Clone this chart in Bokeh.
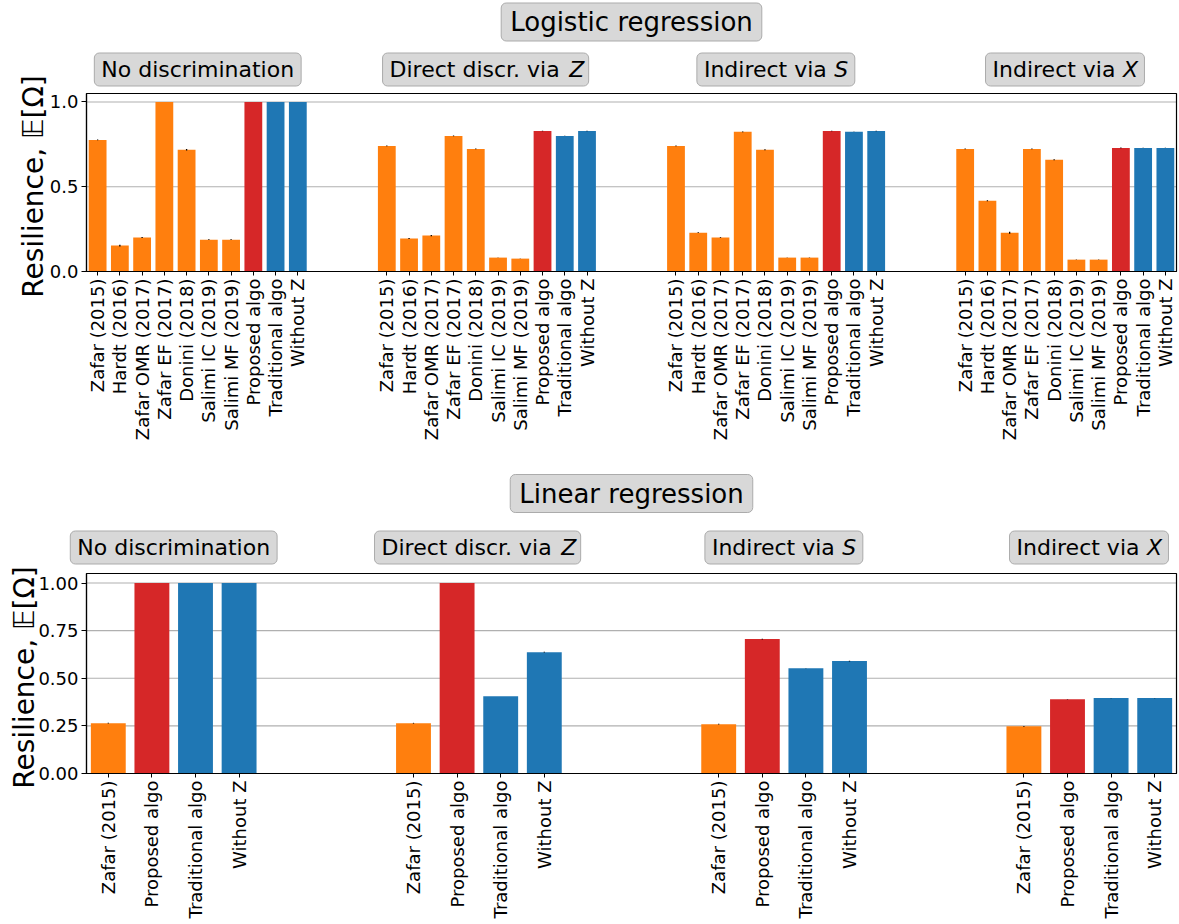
import math
from bokeh.plotting import figure
from bokeh.layouts import column
from bokeh.models import ColumnDataSource, Range1d, FixedTicker, PrintfTickFormatter, Label
from bokeh.embed import file_html
from bokeh.resources import INLINE

FONT = "DejaVu Sans"

# ---------------- data ----------------
log_methods = ["Zafar (2015)", "Hardt (2016)", "Zafar OMR (2017)", "Zafar EF (2017)",
               "Donini (2018)", "Salimi IC (2019)", "Salimi MF (2019)",
               "Proposed algo", "Traditional algo", "Without Z"]
log_kinds = ["baseline"] * 7 + ["proposed", "traditional", "traditional"]

lin_methods = ["Zafar (2015)", "Proposed algo", "Traditional algo", "Without Z"]
lin_kinds = ["baseline", "proposed", "traditional", "traditional"]

scenario_names = ["No discrimination", "Direct discr. via", "Indirect via", "Indirect via"]
scenario_vars = ["", "Z", "S", "X"]

log_no_disc = [0.776, 0.153, 0.200, 1.000, 0.718, 0.188, 0.188, 1.000, 1.000, 1.000]
log_direct_z = [0.741, 0.194, 0.212, 0.800, 0.723, 0.082, 0.076, 0.829, 0.800, 0.829]
log_indirect_s = [0.741, 0.229, 0.200, 0.824, 0.718, 0.082, 0.082, 0.829, 0.824, 0.829]
log_indirect_x = [0.723, 0.418, 0.229, 0.723, 0.659, 0.070, 0.070, 0.729, 0.729, 0.729]

log_err_no_disc = [0.002, 0.005, 0.003, 0.000, 0.004, 0.002, 0.002, 0.000, 0.000, 0.000]
log_err_direct_z = [0.002, 0.003, 0.004, 0.002, 0.002, 0.001, 0.001, 0.002, 0.001, 0.001]
log_err_indirect_s = [0.002, 0.002, 0.002, 0.002, 0.003, 0.001, 0.001, 0.002, 0.001, 0.001]
log_err_indirect_x = [0.002, 0.003, 0.006, 0.002, 0.003, 0.001, 0.001, 0.002, 0.001, 0.001]

lin_no_disc = [0.264, 1.000, 1.000, 1.000]
lin_direct_z = [0.264, 1.000, 0.406, 0.637]
lin_indirect_s = [0.259, 0.706, 0.553, 0.590]
lin_indirect_x = [0.248, 0.390, 0.396, 0.396]

lin_err_no_disc = [0.002, 0.000, 0.000, 0.000]
lin_err_direct_z = [0.002, 0.000, 0.000, 0.002]
lin_err_indirect_s = [0.002, 0.002, 0.001, 0.002]
lin_err_indirect_x = [0.002, 0.001, 0.001, 0.001]

log_yticks = [0.0, 0.5, 1.0]
lin_yticks = [0.0, 0.25, 0.5, 0.75, 1.0]
Y_TOP = 1.05

kind_colors = {"baseline": "#ff7f0e", "proposed": "#d62728", "traditional": "#1f77b4"}

# ---------------- layout constants (pixels) ----------------
W = 1179
AX_LEFT = 86      # left edge of the axes box
AX_RIGHT = 1176   # right edge of the axes box
AX_W = AX_RIGHT - AX_LEFT

# DejaVu Sans advance widths (em) for label layout
CHAR_W = {' ': 0.318, 'D': 0.770, 'i': 0.278, 'r': 0.411, 'e': 0.615, 'c': 0.550,
          't': 0.392, 'd': 0.635, 's': 0.521, '.': 0.318, 'v': 0.592, 'a': 0.613,
          'I': 0.295, 'n': 0.634, 'Z': 0.685, 'S': 0.635, 'X': 0.685}


def text_w(s, fs):
    return sum(CHAR_W.get(ch, 0.6) for ch in s) * fs


BOX_FILL = "#d8d8d8"
BOX_LINE = "#ababab"


def box_label(p, x, yoff, main, var, fs, pad_x, pad_y):
    common = dict(x=x, y=Y_TOP, y_offset=yoff, text_baseline="middle", text_font=FONT,
                  text_font_size=f"{fs}px", text_color="black")
    box = dict(background_fill_color=BOX_FILL, background_fill_alpha=1.0,
               border_line_color=BOX_LINE, border_line_width=1, border_radius=5)
    if not var:
        p.add_layout(Label(text=main, text_align="center",
                           padding=dict(left=pad_x, right=pad_x, top=pad_y, bottom=pad_y),
                           **box, **common))
    else:
        w_main_sp = text_w(main + " ", fs)
        w_main = text_w(main, fs)
        total = w_main_sp + text_w(var, fs)
        p.add_layout(Label(x_offset=-total / 2 - pad_x, text=main, text_align="left",
                           padding=dict(left=pad_x, right=int(round(pad_x + total - w_main)),
                                        top=pad_y, bottom=pad_y),
                           **box, **common))
        p.add_layout(Label(x_offset=-total / 2 + w_main_sp, text=var, text_align="left",
                           text_font_style="italic", **common))


def make_panel(methods, kinds, series, errors, title, yticks, yfmt,
               H, frame_top, frame_bottom, title_off, group_off, ylab_off):
    n = len(methods)
    step = n + 3
    xs, tops, cols, y0s, y1s = [], [], [], [], []
    ticks, overrides = [], {}
    for g, (vals, errs) in enumerate(zip(series, errors)):
        for i in range(n):
            x = g * step + i
            xs.append(x)
            tops.append(vals[i])
            cols.append(kind_colors[kinds[i]])
            y0s.append(vals[i] - errs[i])
            y1s.append(vals[i] + errs[i])
            ticks.append(x)
            overrides[x] = methods[i]
    xmin = -0.5
    xmax = (len(series) - 1) * step + n - 1 + 0.5

    xunit = AX_W / (xmax - xmin)
    yunit = (frame_bottom - frame_top) / Y_TOP
    x_range = Range1d(xmin - AX_LEFT / xunit, xmax + (W - AX_RIGHT) / xunit)
    y_range = Range1d(-(H - frame_bottom) / yunit, Y_TOP + frame_top / yunit)

    p = figure(width=W, height=H, output_backend="svg", toolbar_location=None,
               x_range=x_range, y_range=y_range, min_border=0)
    p.background_fill_color = "white"
    p.border_fill_color = "white"
    p.outline_line_color = None
    p.grid.visible = False

    # horizontal grid lines
    p.segment(x0=[xmin] * len(yticks), y0=yticks, x1=[xmax] * len(yticks), y1=yticks,
              line_color="#b0b0b0", line_width=1.1)

    src = ColumnDataSource(dict(x=xs, top=tops, color=cols, y0=y0s, y1=y1s))
    p.vbar(x="x", top="top", width=0.8, bottom=0, fill_color="color", line_color=None, source=src)
    p.segment(x0="x", y0="y0", x1="x", y1="y1", line_color="black", line_width=1.3, source=src)

    # axes box
    p.quad(left=[xmin], right=[xmax], bottom=[0], top=[Y_TOP], fill_color=None,
           line_color="black", line_width=1.2)

    xa = p.xaxis[0]
    xa.fixed_location = 0
    xa.bounds = (xmin, xmax)
    xa.ticker = FixedTicker(ticks=ticks)
    xa.major_label_overrides = overrides
    xa.major_label_orientation = math.pi / 2
    xa.major_label_text_font = FONT
    xa.major_label_text_font_size = "18px"
    xa.major_label_text_color = "black"
    xa.major_tick_out = 4
    xa.major_tick_in = 0
    xa.minor_tick_line_color = None
    xa.major_label_standoff = 3
    xa.axis_line_color = "black"
    xa.axis_line_width = 1.2

    ya = p.yaxis[0]
    ya.fixed_location = xmin
    ya.bounds = (0, Y_TOP)
    ya.ticker = FixedTicker(ticks=yticks)
    ya.formatter = PrintfTickFormatter(format=yfmt)
    ya.major_label_text_font = FONT
    ya.major_label_text_font_size = "18px"
    ya.major_label_text_color = "black"
    ya.major_tick_out = 5
    ya.major_tick_in = 0
    ya.minor_tick_line_color = None
    ya.major_label_standoff = 3
    ya.axis_line_color = "black"
    ya.axis_line_width = 1.2

    # y-axis title
    p.add_layout(Label(x=xmin, x_offset=-ylab_off, y=Y_TOP / 2, y_offset=-4,
                       text="Resilience, \U0001D53C[\u03A9]",
                       angle=math.pi / 2, text_align="center", text_baseline="bottom",
                       text_font=FONT, text_font_size="28px", text_color="black"))

    # panel title and scenario labels
    box_label(p, (xmin + xmax) / 2, title_off, title, "", 26, 9, 4)
    for g in range(len(series)):
        cx = g * step + (n - 1) / 2
        box_label(p, cx, group_off, scenario_names[g], scenario_vars[g], 22, 7, 4)
    return p


p_log = make_panel(log_methods, log_kinds,
                   [log_no_disc, log_direct_z, log_indirect_s, log_indirect_x],
                   [log_err_no_disc, log_err_direct_z, log_err_indirect_s, log_err_indirect_x],
                   "Logistic regression", log_yticks, "%.1f",
                   H=465, frame_top=93, frame_bottom=271,
                   title_off=71.5, group_off=24, ylab_off=37)

p_lin = make_panel(lin_methods, lin_kinds,
                   [lin_no_disc, lin_direct_z, lin_indirect_s, lin_indirect_x],
                   [lin_err_no_disc, lin_err_direct_z, lin_err_indirect_s, lin_err_indirect_x],
                   "Linear regression", lin_yticks, "%.2f",
                   H=458, frame_top=108, frame_bottom=308,
                   title_off=80, group_off=26, ylab_off=46)

layout = column(p_log, p_lin, spacing=0)
open("out.html", "w").write(file_html(layout, INLINE))
